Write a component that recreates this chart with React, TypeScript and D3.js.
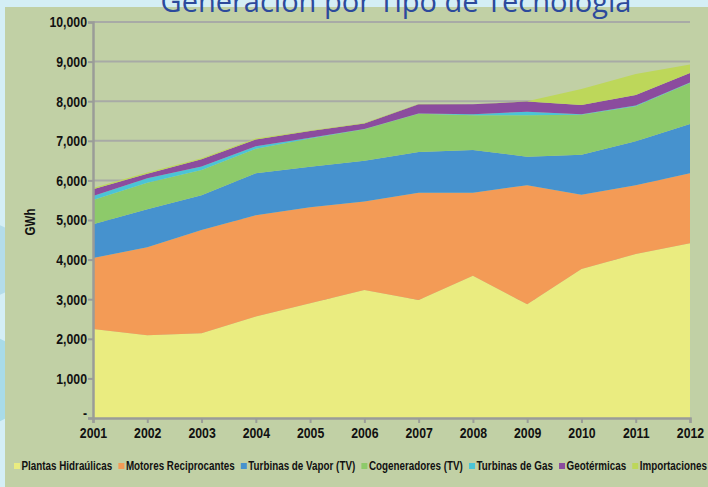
import React, { useEffect, useRef } from 'react';
import * as d3 from 'd3';

const years = [2001, 2002, 2003, 2004, 2005, 2006, 2007, 2008, 2009, 2010, 2011, 2012];
const hidraulicas = [2250, 2090, 2140, 2560, 2900, 3230, 2980, 3590, 2870, 3760, 4140, 4410];
const motores = [1790, 2220, 2610, 2560, 2420, 2240, 2710, 2100, 3010, 1880, 1740, 1770];
const vapor = [850, 960, 875, 1060, 1025, 1025, 1030, 1080, 720, 1010, 1110, 1245];
const cogeneradores = [615, 670, 640, 620, 715, 795, 960, 875, 1045, 1010, 885, 1035];
const gas = [100, 115, 85, 65, 15, 10, 10, 25, 90, 10, 15, 10];
const geotermicas = [170, 115, 185, 170, 170, 140, 235, 250, 255, 235, 265, 240];
const importaciones = [30, 30, 25, 25, 15, 10, 5, 5, 10, 405, 530, 215];

const seriesNames = [
  'Plantas Hidraúlicas',
  'Motores Reciprocantes',
  'Turbinas de Vapor (TV)',
  'Cogeneradores (TV)',
  'Turbinas de Gas',
  'Geotérmicas',
  'Importaciones',
];
const seriesValues = [hidraulicas, motores, vapor, cogeneradores, gas, geotermicas, importaciones];
const colors = ['#eaec80', '#f39b56', '#4692ce', '#8dca6a', '#4bc4d6', '#8b4c9e', '#bdd75a'];
const yTicks = [0, 1000, 2000, 3000, 4000, 5000, 6000, 7000, 8000, 9000, 10000];

const W = 708;
const H = 487;
// no condensed face installed, so Liberation Sans gets squeezed horizontally
const sans = "'Liberation Sans', Arial, sans-serif";
const SX = 0.82;

function Chart() {
  const ref = useRef<SVGSVGElement>(null);

  useEffect(() => {
    const svg = d3.select(ref.current);
    svg.selectAll('*').remove();

    // background
    svg.append('rect').attr('width', W).attr('height', H).attr('fill', '#d4eef5');
    svg.append('ellipse').attr('cx', -30).attr('cy', 260).attr('rx', 60).attr('ry', 40).attr('fill', '#b4dcea');
    svg.append('ellipse').attr('cx', -20).attr('cy', 380).attr('rx', 50).attr('ry', 45).attr('fill', '#a9dbe8');
    svg.append('rect').attr('x', 5).attr('y', 7).attr('width', W - 5).attr('height', H - 7).attr('fill', '#c1d0a5');

    const x = d3.scaleLinear().domain([2001, 2012]).range([93, 690]);
    const y = d3.scaleLinear().domain([0, 10000]).range([418, 22]);

    // grid
    svg.append('g')
      .selectAll('line')
      .data(yTicks.slice(1))
      .join('line')
      .attr('x1', x(2001)).attr('x2', x(2012))
      .attr('y1', d => y(d)).attr('y2', d => y(d))
      .attr('stroke', '#a8aaa6').attr('stroke-width', 2);

    const table = years.map((yr, i) => {
      const row: any = { year: yr };
      seriesNames.forEach((n, k) => { row[n] = seriesValues[k][i]; });
      return row;
    });
    const stack = d3.stack().keys(seriesNames)(table);
    const area = d3.area<any>()
      .x(d => x(d.data.year))
      .y0(d => y(d[0]))
      .y1(d => y(d[1]));

    svg.append('g')
      .selectAll('path')
      .data(stack)
      .join('path')
      .attr('d', d => area(d as any))
      .attr('fill', (d, i) => colors[i]);

    // axes
    const axisColor = '#9a9c98';
    const yAxis = svg.append('g').attr('transform', `translate(${x(2001)},0)`)
      .call(d3.axisLeft(y).tickValues(yTicks).tickSize(5).tickFormat(d => (+d === 0 ? '-' : d3.format(',')(+d))));
    const xAxis = svg.append('g').attr('transform', `translate(0,${y(0)})`)
      .call(d3.axisBottom(x).tickValues(years).tickSize(5).tickFormat(d => String(d)));
    [yAxis, xAxis].forEach(a => {
      a.select('.domain').attr('stroke', axisColor).attr('stroke-width', 2.5);
      a.selectAll('.tick line').attr('stroke', axisColor).attr('stroke-width', 2);
      a.selectAll('text')
        .attr('fill', '#111')
        .attr('font-family', sans)
        .attr('font-weight', 'bold')
        .attr('font-size', 15)
        .attr('transform', `scale(${SX},1)`);
    });
    yAxis.selectAll('text').attr('x', -6 / SX);
    yAxis.selectAll('.tick').filter((d: any) => d === 0).select('text').attr('dy', '-0.05em');
    xAxis.selectAll('text').attr('y', 9);

    svg.append('text')
      .attr('transform', `translate(35,${y(5000) + 2}) rotate(-90) scale(${SX},1)`)
      .attr('text-anchor', 'middle')
      .attr('font-family', sans).attr('font-weight', 'bold').attr('font-size', 14)
      .attr('fill', '#111')
      .text('GWh');

    // legend, laid out in squeezed coordinates
    const lg = svg.append('g')
      .attr('transform', `scale(${SX},1)`)
      .attr('font-family', sans).attr('font-weight', 'bold').attr('font-size', 12);
    const texts = seriesNames.map(n => lg.append('text').attr('fill', '#111').attr('y', 470).text(n));
    const widths = texts.map(t => (t.node() as SVGTextElement).getComputedTextLength());
    const sq = 6 / SX;
    const pad = 1.5 / SX;
    const left = 14 / SX;
    const right = 707 / SX;
    const used = d3.sum(widths) + seriesNames.length * (sq + pad);
    const gap = (right - left - used) / (seriesNames.length - 1);
    let cx = left;
    texts.forEach((t, i) => {
      lg.append('rect').attr('x', cx).attr('y', 463).attr('width', sq).attr('height', 6).attr('fill', colors[i]);
      t.attr('x', cx + sq + pad);
      cx += sq + pad + widths[i] + gap;
    });

    // title, partly cut off at top
    svg.append('text')
      .attr('x', 396).attr('y', 12)
      .attr('text-anchor', 'middle')
      .attr('font-family', "'Open Sans', 'Noto Sans', sans-serif")
      .attr('font-size', 29)
      .attr('fill', '#2c4a9c')
      .text('Generación por Tipo de Tecnología');
  }, []);

  return <svg ref={ref} width={W} height={H} style={{ display: 'block' }} />;
}

export default function App() {
  return (
    <div style={{ position: 'absolute', left: 0, top: 0, width: W, height: H, overflow: 'hidden' }}>
      <Chart />
    </div>
  );
}
